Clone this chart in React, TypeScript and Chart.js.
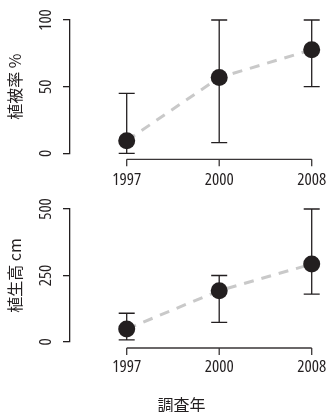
import React, { useEffect, useRef } from "react";
import { Chart, registerables } from "chart.js";

Chart.register(...registerables);

// ---- data ----
const years = ["1997", "2000", "2008"];

const coverMean = [9.5, 56.8, 77.7];
const coverLow = [0, 8, 50];
const coverHigh = [45, 100, 100];
const coverTicks = [0, 50, 100];

const heightMean = [49, 193, 293];
const heightLow = [8, 74, 180];
const heightHigh = [108, 250, 500];
const heightTicks = [0, 250, 500];

const INK = "#231f20";
const NUM_FONT = "'Open Sans', sans-serif";
const JP_FONT = "'Noto Sans CJK JP', sans-serif";

function makeErrorPlugin(low: number[], high: number[]) {
  return {
    id: "errbars",
    beforeDatasetsDraw(chart: any) {
      const xs = chart.scales.x;
      const ys = chart.scales.y;
      const ctx = chart.ctx;
      ctx.save();
      ctx.strokeStyle = INK;
      ctx.lineWidth = 1.3;
      low.forEach((lo, i) => {
        const px = xs.getPixelForValue(i);
        const y1 = ys.getPixelForValue(lo);
        const y2 = ys.getPixelForValue(high[i]);
        ctx.beginPath();
        ctx.moveTo(px, y1);
        ctx.lineTo(px, y2);
        ctx.moveTo(px - 8, y1);
        ctx.lineTo(px + 8, y1);
        ctx.moveTo(px - 8, y2);
        ctx.lineTo(px + 8, y2);
        ctx.stroke();
      });
      // detached x axis line with ticks
      const base = chart.chartArea.bottom + 6;
      const xa = xs.getPixelForValue(0);
      const xb = xs.getPixelForValue(years.length - 1);
      ctx.strokeStyle = "#3a3637";
      ctx.lineWidth = 1.3;
      ctx.beginPath();
      ctx.moveTo(xa, base);
      ctx.lineTo(xb, base);
      years.forEach((_, i) => {
        const px = xs.getPixelForValue(i);
        ctx.moveTo(px, base);
        ctx.lineTo(px, base + 7);
      });
      ctx.stroke();
      ctx.restore();
    },
  };
}

function makeConfig(
  mean: number[],
  low: number[],
  high: number[],
  ticks: number[],
  title: string,
  padTop: number,
  xHeight: number,
  xLabelPad: number
): any {
  return {
    type: "line",
    data: {
      datasets: [
        {
          data: mean.map((v, i) => ({ x: i, y: v })),
          borderColor: "#c9c9c9",
          borderWidth: 3,
          borderDash: [10, 8],
          pointRadius: 8.5,
          pointBackgroundColor: INK,
          pointBorderWidth: 0,
          clip: false,
        },
      ],
    },
    options: {
      animation: false,
      responsive: false,
      maintainAspectRatio: false,
      layout: { padding: { top: padTop, right: 9, left: 0, bottom: 0 } },
      plugins: { legend: { display: false }, tooltip: { enabled: false } },
      scales: {
        x: {
          type: "linear",
          min: -0.613,
          max: 2.068,
          grid: { display: false, drawTicks: false },
          border: { display: false },
          afterBuildTicks: (s: any) => {
            s.ticks = years.map((_, i) => ({ value: i }));
          },
          afterFit: (s: any) => {
            s.height = xHeight;
            s.paddingLeft = 0;
            s.paddingRight = 0;
          },
          ticks: {
            padding: xLabelPad,
            color: INK,
            font: { family: NUM_FONT, size: 17, weight: "condensed" },
            maxRotation: 0,
            autoSkip: false,
            callback: (v: any) => years[v],
          },
        },
        y: {
          min: ticks[0],
          max: ticks[ticks.length - 1],
          afterBuildTicks: (s: any) => {
            s.ticks = ticks.map((v) => ({ value: v }));
          },
          afterFit: (s: any) => {
            s.width = 70;
            s.paddingTop = 0;
            s.paddingBottom = 0;
          },
          border: { display: true, color: INK, width: 1.3 },
          grid: {
            display: true,
            drawOnChartArea: false,
            drawTicks: true,
            tickLength: 7,
            color: INK,
            lineWidth: 1.3,
          },
          ticks: {
            minRotation: 90,
            maxRotation: 90,
            crossAlign: "center",
            padding: 6,
            color: INK,
            font: { family: NUM_FONT, size: 17, weight: "condensed" },
          },
          title: {
            display: true,
            text: title,
            color: INK,
            font: { family: JP_FONT, size: 16 },
            padding: { top: 5, bottom: 0 },
          },
        },
      },
    },
    plugins: [makeErrorPlugin(low, high)],
  };
}

function Panel(props: { cfg: any; top: number; height: number }) {
  const ref = useRef<HTMLCanvasElement | null>(null);
  useEffect(() => {
    const c = new Chart(ref.current as HTMLCanvasElement, props.cfg);
    return () => c.destroy();
  }, []);
  return (
    <canvas
      ref={ref}
      width={327}
      height={props.height}
      style={{ position: "absolute", left: 0, top: props.top, width: 327, height: props.height }}
    />
  );
}

export default function App() {
  const topCfg = makeConfig(coverMean, coverLow, coverHigh, coverTicks, "植被率 %", 20, 46.7, 17);
  const botCfg = makeConfig(heightMean, heightLow, heightHigh, heightTicks, "植生高 cm", 14, 70, 15);
  return (
    <div
      style={{
        position: "fixed",
        left: 0,
        top: 0,
        width: 327,
        height: 412,
        background: "#fff",
        overflow: "hidden",
      }}
    >
      <Panel cfg={topCfg} top={0} height={200} />
      <Panel cfg={botCfg} top={195} height={217} />
      <div
        style={{
          position: "absolute",
          left: 131.5,
          width: 100,
          top: 395,
          textAlign: "center",
          fontFamily: JP_FONT,
          fontSize: 16,
          lineHeight: "18px",
          color: INK,
        }}
      >
        調査年
      </div>
    </div>
  );
}
